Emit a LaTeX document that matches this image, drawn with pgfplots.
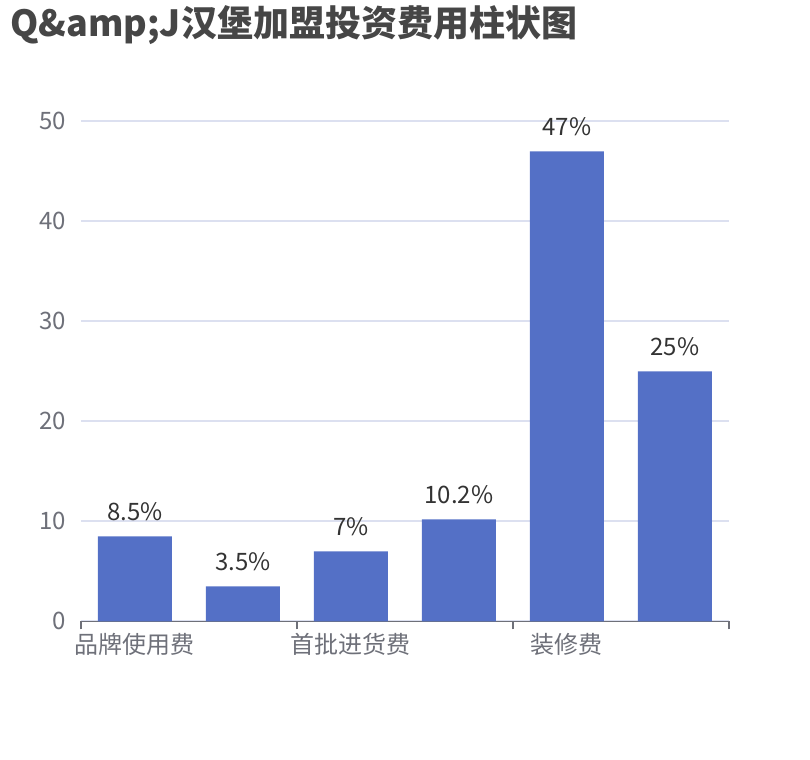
\documentclass[border=0pt]{standalone}
\usepackage{fontspec}
\setmainfont{Noto Sans CJK SC}
\usepackage{pgfplots}
\pgfplotsset{compat=1.18}
\definecolor{barcol}{HTML}{5470C6}
\definecolor{gridcol}{HTML}{DCE0F0}
\definecolor{axiscol}{HTML}{6E7079}
\definecolor{titlecol}{HTML}{464646}
\definecolor{labcol}{HTML}{333333}
\begin{document}
\begin{tikzpicture}[x=1pt,y=1pt]
\path[use as bounding box] (0,0) rectangle (607.5,570);
\node[anchor=west, inner sep=0pt, text=titlecol, font=\bfseries\fontsize{27}{30}\selectfont] at (7.5,551) {Q\&amp;J汉堡加盟投资费用柱状图};
\begin{axis}[
  at={(74.8,138.7)}, anchor=south west,
  scale only axis, width=486pt, height=375pt,
  xmin=-0.5, xmax=5.5, ymin=0, ymax=50,
  axis x line*=bottom, axis y line*=left,
  y axis line style={draw=none},
  x axis line style={draw=axiscol, line width=1.1pt, -},
  ytick={0,10,20,30,40,50},
  ytick style={draw=none},
  ymajorgrids, grid style={gridcol, line width=1.2pt},
  xtick={-0.5,1.5,3.5,5.5}, xticklabels={},
  tick align=outside,
  xtick style={draw=axiscol, line width=1.1pt},
  major tick length=6pt,
  extra x ticks={0,2,4},
  extra x tick labels={品牌使用费,首批进货费,装修费},
  extra x tick style={major tick length=0pt, xtick style={draw=none}},
  xticklabel style={anchor=north, inner sep=0pt, yshift=-9pt, text=axiscol, font=\fontsize{18}{20}\selectfont},
  yticklabel style={anchor=east, inner sep=0pt, xshift=-5pt, text=axiscol, font=\fontsize{18}{20}\selectfont},
  /pgf/number format/assume math mode=true,
  ybar, bar width=55.5pt,
  nodes near coords={\pgfmathprintnumber{\pgfplotspointmeta}\%},
  nodes near coords style={anchor=base, inner sep=0pt, yshift=12pt, text=labcol, font=\fontsize{18}{20}\selectfont},
]
\addplot[fill=barcol, draw=none] coordinates {(0,8.5) (1,3.5) (2,7) (3,10.2) (4,47) (5,25)};
\end{axis}
\end{tikzpicture}
\end{document}
